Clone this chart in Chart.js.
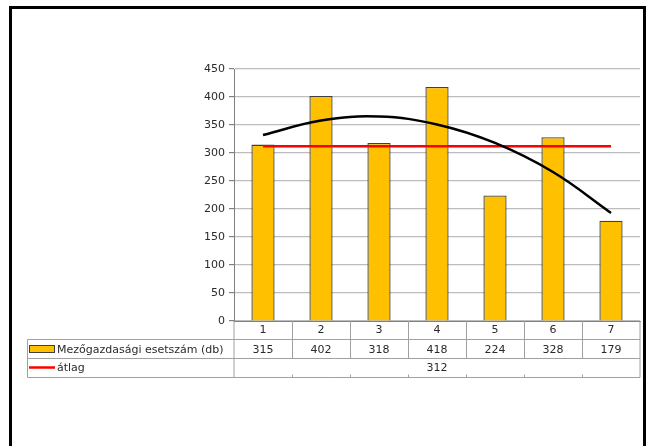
<!DOCTYPE html>
<html>
<head>
<meta charset="utf-8">
<script src="https://cdn.jsdelivr.net/npm/chart.js@4.4.0/dist/chart.umd.min.js"></script>
<style>
    html, body { margin: 0; padding: 0; background: #fff; }
    #wrap { width: 649px; height: 446px; position: relative; }
</style>
</head>
<body>
<div id="wrap"><canvas id="esetszam" width="649" height="446"></canvas></div>
<script>
const honapok = ['1', '2', '3', '4', '5', '6', '7'];
const esetszam = [315, 402, 318, 418, 224, 328, 179];
const atlag = [312, 312, 312, 312, 312, 312, 312];
// polinomos trendvonal, leolvasott értékek
const trend = [332, 358, 365, 351, 318, 266, 193];
const yTicks = [0, 50, 100, 150, 200, 250, 300, 350, 400, 450];

const sorNevek = ['Mezőgazdasági esetszám (db)', 'átlag'];
const atlagFelirat = '312';

const betuCsalad = '"DejaVu Sans", Verdana, sans-serif';
const betu = '11px ' + betuCsalad;
const szoveg = '#2a2a2a';

// keret + adattábla a diagram alatt
const tablaPlugin = {
    id: 'tabla',
    beforeDraw(chart) {
        const c = chart.ctx;
        c.save();
        c.strokeStyle = '#000';
        c.lineWidth = 3;
        c.strokeRect(10.5, 7.5, 634, 460);
        c.restore();
    },
    afterDraw(chart) {
        const c = chart.ctx;
        const x = chart.scales.x;
        const area = chart.chartArea;
        const fel = (x.getPixelForValue(1) - x.getPixelForValue(0)) / 2;
        const bal = area.left, jobb = area.right;
        const r0 = area.bottom, r1 = 339.5, r2 = 358.5, r3 = 377.5;
        const tablaBal = 27.5;

        c.save();
        c.strokeStyle = '#a0a0a0';
        c.lineWidth = 1;
        c.beginPath();
        // vízszintes vonalak
        [r1, r2, r3].forEach(function (y) {
            c.moveTo(tablaBal, y);
            c.lineTo(jobb, y);
        });
        c.moveTo(tablaBal, r1);
        c.lineTo(tablaBal, r3);
        c.moveTo(bal, r0);
        c.lineTo(bal, r3);
        c.moveTo(jobb, r0);
        c.lineTo(jobb, r3);
        for (let i = 1; i < honapok.length; i++) {
            const xp = Math.round(x.getPixelForValue(i) - fel) + 0.5;
            c.moveTo(xp, r0);
            c.lineTo(xp, r2);
            c.moveTo(xp, r3 - 3);
            c.lineTo(xp, r3);
        }
        c.stroke();

        c.font = betu;
        c.fillStyle = szoveg;
        c.textAlign = 'center';
        c.textBaseline = 'middle';
        honapok.forEach(function (h, i) {
            const xp = x.getPixelForValue(i);
            c.fillText(h, xp, (r0 + r1) / 2);
            c.fillText(String(esetszam[i]), xp, (r1 + r2) / 2 + 1);
        });
        c.fillText(atlagFelirat, (bal + jobb) / 2, (r2 + r3) / 2);

        // jelmagyarázat kulcsok
        c.fillStyle = '#ffc000';
        c.strokeStyle = '#404040';
        c.fillRect(29.5, 345.5, 25, 7);
        c.strokeRect(29.5, 345.5, 25, 7);
        c.strokeStyle = '#ff0000';
        c.lineWidth = 2.5;
        c.beginPath();
        c.moveTo(29, 367.5);
        c.lineTo(55, 367.5);
        c.stroke();

        c.fillStyle = szoveg;
        c.textAlign = 'left';
        c.fillText(sorNevek[0], 57, (r1 + r2) / 2 + 1);
        c.fillText(sorNevek[1], 57, (r2 + r3) / 2);
        c.restore();
    }
};

const ctx = document.getElementById('esetszam').getContext('2d');
const chartEsetszam = new Chart(ctx, {
    type: 'bar',
    data: {
        labels: honapok,
        datasets: [{
            type: 'line',
            label: 'trend',
            data: trend,
            borderColor: '#000000',
            borderWidth: 2.5,
            tension: 0.4,
            pointRadius: 0,
            fill: false,
            order: 1
        }, {
            type: 'line',
            label: sorNevek[1],
            data: atlag,
            borderColor: '#ff0000',
            borderWidth: 2.5,
            pointRadius: 0,
            fill: false,
            order: 2
        }, {
            label: sorNevek[0],
            data: esetszam,
            backgroundColor: '#ffc000',
            borderColor: '#404040',
            borderWidth: 1.3,
            categoryPercentage: 1,
            barPercentage: 0.4,
            order: 3
        }]
    },
    options: {
        responsive: false,
        animation: false,
        layout: {
            padding: { left: 0, top: 69, right: 9, bottom: 0 }
        },
        plugins: {
            legend: { display: false },
            tooltip: { enabled: false }
        },
        scales: {
            x: {
                grid: { display: false },
                border: { color: '#808080' },
                ticks: { display: false },
                afterFit: function (scale) { scale.height = 125; }
            },
            y: {
                min: 0,
                max: 450,
                afterBuildTicks: function (scale) {
                    scale.ticks = yTicks.map(function (v) { return { value: v }; });
                },
                grid: { color: '#bdbdbd', lineWidth: 1.2, tickLength: 5, tickColor: '#808080' },
                border: { color: '#808080' },
                ticks: {
                    font: { family: betuCsalad, size: 11 },
                    color: szoveg,
                    padding: 4
                },
                afterFit: function (scale) { scale.width = 234; }
            }
        }
    },
    plugins: [tablaPlugin]
});
</script>
</body>
</html>
